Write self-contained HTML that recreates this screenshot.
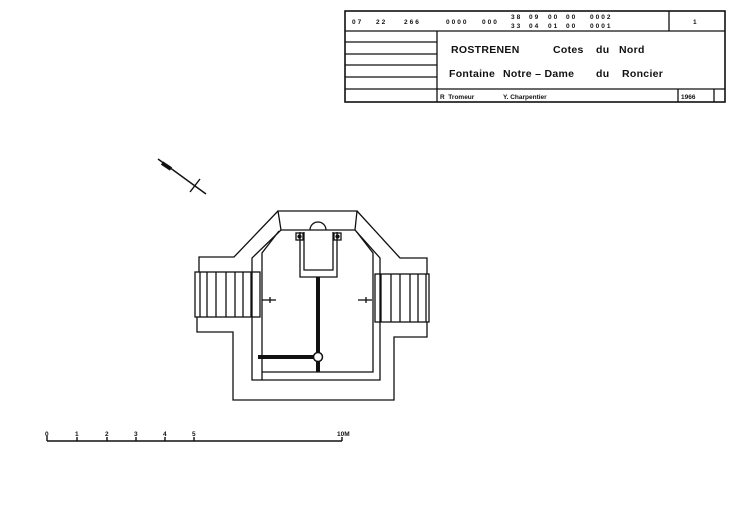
<!DOCTYPE html>
<html><head><style>
html,body{margin:0;padding:0;background:#fff;}
svg{display:block;}
text{font-family:"Liberation Sans",sans-serif;font-weight:bold;fill:#111;white-space:pre;}
</style></head><body>
<svg width="741" height="512" viewBox="0 0 741 512" xmlns="http://www.w3.org/2000/svg" xml:space="preserve">
<rect width="741" height="512" fill="#fff"/>
<g stroke="#111" fill="none" stroke-width="1.3">
<rect x="345" y="11" width="380" height="91" stroke-width="1.6"/>
<line x1="345" y1="31" x2="725" y2="31"/>
<line x1="669" y1="11" x2="669" y2="31"/>
<line x1="437" y1="31" x2="437" y2="102"/>
<line x1="345" y1="42" x2="437" y2="42"/>
<line x1="345" y1="54" x2="437" y2="54"/>
<line x1="345" y1="65" x2="437" y2="65"/>
<line x1="345" y1="77" x2="437" y2="77"/>
<line x1="345" y1="89" x2="725" y2="89"/>
<line x1="678" y1="89" x2="678" y2="102"/>
<line x1="714" y1="89" x2="714" y2="102"/>
</g>
<g font-size="6.5" letter-spacing="2">
<text x="352" y="24">07</text><text x="376" y="24">22</text><text x="404" y="24">266</text>
<text x="446" y="24">0000</text><text x="482" y="24">000</text>
<text x="511" y="19">38</text><text x="529" y="19">09</text><text x="548" y="19">00</text><text x="566" y="19">00</text><text x="590" y="19">0002</text>
<text x="511" y="28">33</text><text x="529" y="28">04</text><text x="548" y="28">01</text><text x="566" y="28">00</text><text x="590" y="28">0001</text>
<text x="693" y="24">1</text>
</g>
<g font-size="6.5">
<text x="440" y="99">R  Tromeur</text>
<text x="503" y="99">Y. Charpentier</text>
<text x="681" y="99">1966</text>
</g>
<g font-size="10.5" letter-spacing="0.3">
<text x="451" y="53">ROSTRENEN</text>
<text x="553" y="53">Cotes</text><text x="596" y="53">du</text><text x="619" y="53">Nord</text>
<text x="449" y="77">Fontaine</text><text x="503" y="77">Notre – Dame</text><text x="596" y="77">du</text><text x="622" y="77">Roncier</text>
</g>
<g stroke="#111" stroke-width="1.4">
<line x1="158" y1="159" x2="206" y2="194"/>
<line x1="190" y1="192" x2="200" y2="179"/>
<line x1="162" y1="163" x2="171" y2="169" stroke-width="4"/>
</g>
<g stroke="#111" fill="none" stroke-width="1.3">
<polyline points="278,211 234,257 199,257 199,272"/>
<polyline points="197,317 197,332 233,332 233,400 394,400 394,337 427,337 427,322"/>
<polyline points="427,274 427,258 400,258 357,211"/>
<polygon points="278,211 357,211 355,230 281,230"/>
<polyline points="281,230 252,258 252,380 380,380 380,258 355,230"/>
<polyline points="262,380 262,253 279,231"/>
<polyline points="262,372 373,372 373,253 356,231"/>
<rect x="195" y="272" width="65" height="45"/>
<rect x="375" y="274" width="54" height="48"/>
<g>
<line x1="200" y1="272" x2="200" y2="317"/><line x1="207" y1="272" x2="207" y2="317"/>
<line x1="216" y1="272" x2="216" y2="317"/><line x1="226" y1="272" x2="226" y2="317"/>
<line x1="235" y1="272" x2="235" y2="317"/><line x1="243" y1="272" x2="243" y2="317"/>
<line x1="251" y1="272" x2="251" y2="317"/>
<line x1="381" y1="274" x2="381" y2="322"/><line x1="391" y1="274" x2="391" y2="322"/>
<line x1="400" y1="274" x2="400" y2="322"/><line x1="410" y1="274" x2="410" y2="322"/>
<line x1="418" y1="274" x2="418" y2="322"/><line x1="426" y1="274" x2="426" y2="322"/>
</g>
<polyline points="300,232 300,277 337,277 337,232"/>
<polyline points="304,232 304,270 333,270 333,232"/>
<path d="M310,230 A8,8 0 0 1 326,230"/>
<rect x="296" y="233" width="7" height="7"/>
<rect x="334" y="233" width="7" height="7"/>
<circle cx="299.5" cy="236.5" r="1.5" fill="#111"/>
<circle cx="337.5" cy="236.5" r="1.5" fill="#111"/>
<line x1="318" y1="277" x2="318" y2="372" stroke-width="4"/>
<line x1="258" y1="357" x2="318" y2="357" stroke-width="4"/>
<circle cx="318" cy="357" r="4.5" fill="#fff" stroke-width="1.5"/>
<line x1="262" y1="300" x2="276" y2="300"/>
<line x1="270" y1="297" x2="270" y2="303"/>
<line x1="358" y1="300" x2="372" y2="300"/>
<line x1="366" y1="297" x2="366" y2="303"/>
</g>
<g stroke="#111" stroke-width="1.4">
<line x1="47" y1="441" x2="342" y2="441"/>
<line x1="47" y1="436" x2="47" y2="441"/>
<line x1="77" y1="437" x2="77" y2="441"/>
<line x1="107" y1="437" x2="107" y2="441"/>
<line x1="136" y1="437" x2="136" y2="441"/>
<line x1="165" y1="437" x2="165" y2="441"/>
<line x1="194" y1="437" x2="194" y2="441"/>
<line x1="342" y1="437" x2="342" y2="441"/>
</g>
<g font-size="6.5">
<text x="45" y="436">0</text><text x="75" y="436">1</text><text x="105" y="436">2</text>
<text x="134" y="436">3</text><text x="163" y="436">4</text><text x="192" y="436">5</text>
<text x="337" y="436">10M</text>
</g>
</svg>
</body></html>
